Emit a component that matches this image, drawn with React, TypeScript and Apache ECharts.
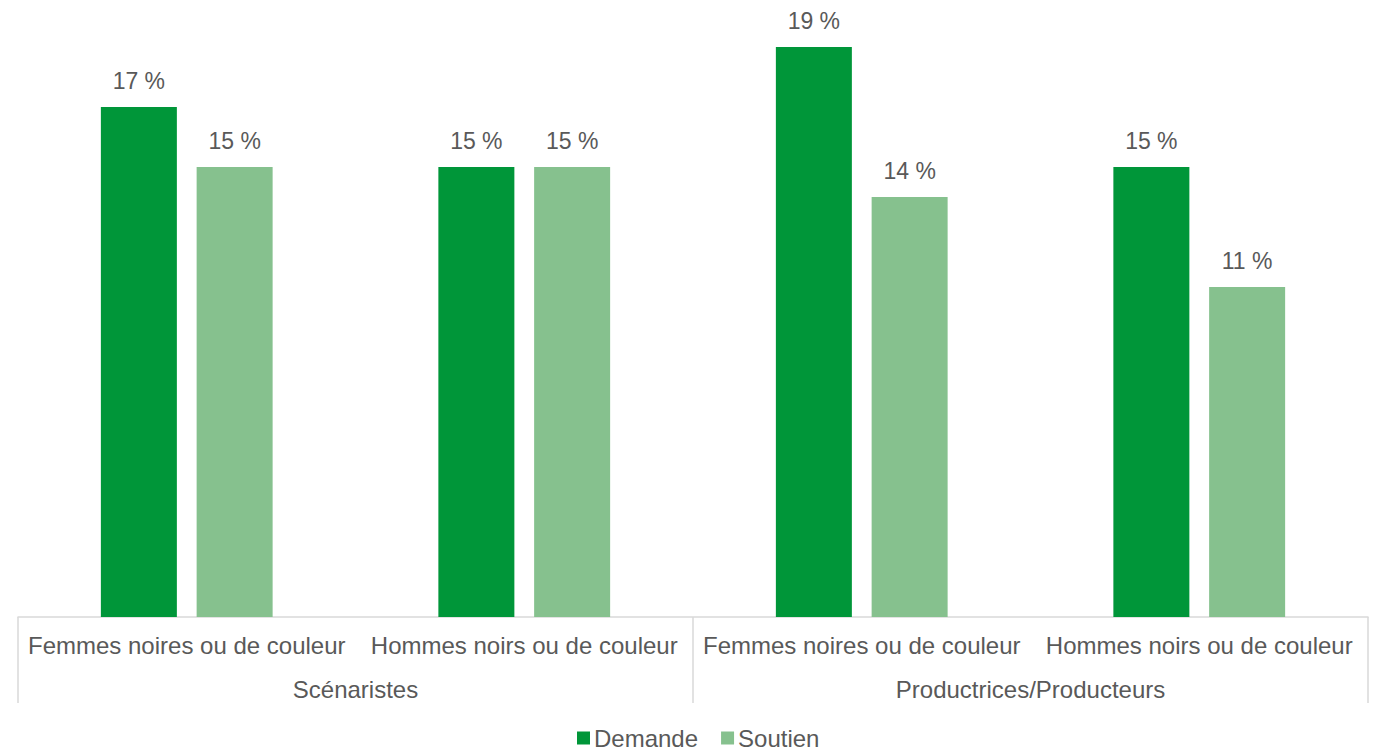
import React, { useEffect, useRef } from "react";
import * as echarts from "echarts";

const categories = [
  "Femmes noires ou de couleur",
  "Hommes noirs ou de couleur",
  "Femmes noires ou de couleur",
  "Hommes noirs ou de couleur",
];
const groups = ["Scénaristes", "Productrices/Producteurs"];
const demande = [17, 15, 19, 15];
const soutien = [15, 15, 14, 11];

const FONT = "'Liberation Sans', Arial, sans-serif";
const TEXT = "#595959";
const LINE = "#d9d9d9";

export default function App() {
  const ref = useRef<HTMLDivElement>(null);
  useEffect(() => {
    if (!ref.current) return;
    const chart = echarts.init(ref.current, null, { renderer: "svg" });
    const label = {
      show: true,
      position: "top",
      distance: 15,
      formatter: "{c} %",
      color: TEXT,
      fontSize: 23,
      fontFamily: FONT,
    };
    chart.setOption({
      animation: false,
      textStyle: { fontFamily: FONT },
      grid: { left: 18, right: 12, top: 17, bottom: 133 },
      legend: {
        top: 721,
        left: 572,
        icon: "rect",
        itemWidth: 13,
        itemHeight: 13,
        itemGap: 23,
        textStyle: { color: TEXT, fontSize: 24, fontFamily: FONT, padding: [0, 0, 0, -1] },
        data: ["Demande", "Soutien"],
      },
      xAxis: [
        {
          type: "category",
          data: categories,
          position: "bottom",
          axisLine: { show: true, lineStyle: { color: LINE, width: 1.5 } },
          axisTick: { show: false },
          axisLabel: { interval: 0, margin: 16, color: TEXT, fontSize: 24, fontFamily: FONT },
        },
        {
          type: "category",
          data: groups,
          position: "bottom",
          axisLine: { show: false },
          axisTick: { show: true, length: 86, lineStyle: { color: LINE, width: 1.5 } },
          axisLabel: { interval: 0, margin: 60, color: TEXT, fontSize: 24, fontFamily: FONT },
        },
      ],
      yAxis: { type: "value", min: 0, max: 20, show: false, splitLine: { show: false } },
      series: [
        {
          name: "Demande",
          type: "bar",
          data: demande,
          barWidth: 76,
          barGap: "26%",
          itemStyle: { color: "#009639" },
          label,
        },
        {
          name: "Soutien",
          type: "bar",
          data: soutien,
          barWidth: 76,
          barGap: "26%",
          itemStyle: { color: "#86C18E" },
          label,
        },
      ],
    });
    return () => chart.dispose();
  }, []);
  return (
    <div
      ref={ref}
      style={{ position: "fixed", left: 0, top: 0, width: 1380, height: 750, background: "#fff" }}
    />
  );
}
